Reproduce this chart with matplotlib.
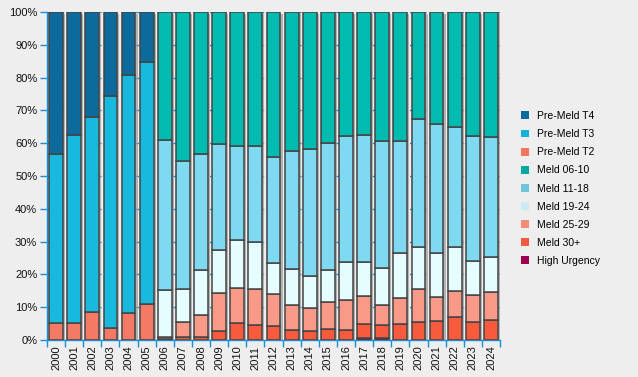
import matplotlib
matplotlib.use("Agg")
import matplotlib.pyplot as plt
import numpy as np
from matplotlib.patches import Patch

years = [str(y) for y in range(2000, 2025)]

# segment sizes in percent (bottom to top stacking order: HU, 30+, 25-29, 19-24, 11-18, 06-10, T2, T3, T4)
pre_t4 = [43.2, 37.4, 32.1, 25.5, 19.1, 15.3] + [0] * 19
pre_t3 = [51.7, 57.5, 59.5, 70.9, 72.8, 73.8] + [0] * 19
pre_t2 = [5.1, 5.1, 8.4, 3.6, 8.1, 10.9] + [0] * 19
meld_06_10 = [0] * 6 + [39.1, 45.5, 43.4, 40.3, 41.0, 41.0, 44.3, 42.5, 41.9, 40.0,
                        37.9, 37.6, 39.4, 39.4, 32.7, 34.0, 35.2, 37.9, 38.2]
meld_11_18 = [0] * 6 + [45.8, 39.0, 35.4, 32.2, 28.6, 29.2, 32.3, 36.0, 38.7, 38.8,
                        38.4, 38.7, 38.7, 34.2, 39.0, 39.6, 36.5, 38.1, 36.6]
meld_19_24 = [0] * 6 + [14.2, 10.1, 13.7, 13.3, 14.4, 14.1, 9.5, 10.9, 9.5, 9.7,
                        11.6, 10.4, 11.3, 13.7, 12.8, 13.4, 13.5, 10.4, 10.7]
meld_25_29 = [0] * 6 + [0.6, 4.5, 6.7, 11.6, 10.9, 11.2, 9.6, 7.6, 7.3, 8.2,
                        9.1, 8.5, 6.1, 7.9, 10.1, 7.3, 7.9, 8.2, 8.5]
meld_30 = [0] * 6 + [0.3, 0.9, 0.8, 2.6, 5.1, 4.5, 4.3, 3.0, 2.6, 3.3,
                     3.0, 4.2, 3.9, 4.8, 5.4, 5.7, 6.9, 5.4, 6.0]
high_urgency = [0] * 17 + [0.6, 0.6] + [0] * 6

series = [
    ("High Urgency", high_urgency, "#a0004f"),
    ("Meld 30+", meld_30, "#f85a3e"),
    ("Meld 25-29", meld_25_29, "#f99a88"),
    ("Meld 19-24", meld_19_24, "#e6fdff"),
    ("Meld 11-18", meld_11_18, "#7fd9f0"),
    ("Meld 06-10", meld_06_10, "#00bbaf"),
    ("Pre-Meld T2", pre_t2, "#f47a66"),
    ("Pre-Meld T3", pre_t3, "#18b9df"),
    ("Pre-Meld T4", pre_t4, "#0c6b9c"),
]
legend_colors = {
    "Pre-Meld T4": "#0d6a9c", "Pre-Meld T3": "#15b2dc", "Pre-Meld T2": "#f07461",
    "Meld 06-10": "#0aa89e", "Meld 11-18": "#6fc5d9", "Meld 19-24": "#cfeaf7",
    "Meld 25-29": "#f28d7c", "Meld 30+": "#f05a40", "High Urgency": "#a00050",
}
legend_order = ["Pre-Meld T4", "Pre-Meld T3", "Pre-Meld T2", "Meld 06-10", "Meld 11-18",
                "Meld 19-24", "Meld 25-29", "Meld 30+", "High Urgency"]

plt.rcParams['font.family'] = ['Liberation Sans', 'DejaVu Sans']
bg = "#eeeeee"
axis_blue = "#1a8fd6"

fig = plt.figure(figsize=(6.38, 3.77), dpi=100, facecolor=bg)
ax = fig.add_axes([47 / 638, 37 / 377, 453 / 638, 328 / 377], facecolor=bg)

x = np.arange(len(years))
width = 0.76

# shadows
totals = np.sum([np.array(s[1]) for s in series], axis=0)
ax.bar(x + 0.12, totals, width=width, bottom=-0.6, color="#9a9a9a", alpha=0.7,
       linewidth=0, zorder=2)

bottom = np.zeros(len(years))
for name, vals, col in series:
    vals = np.array(vals, dtype=float)
    mask = vals > 0
    ax.bar(x[mask], vals[mask], width=width, bottom=bottom[mask], color=col,
           edgecolor="#444444", linewidth=1.1, zorder=3)
    bottom += vals

ax.set_xlim(-0.5, 24.5)
ax.set_ylim(0, 100)
ax.set_yticks(np.arange(0, 101, 10))
ax.set_yticklabels([f"{v}%" for v in range(0, 101, 10)], fontsize=8, color="#111111")
ax.set_xticks(x)
ax.set_xticklabels(years, rotation=90, fontsize=8, color="#111111")
ax.set_xticks(np.arange(-0.5, 25, 1), minor=True)
ax.tick_params(axis='x', which='major', length=0, pad=4)
ax.tick_params(axis='x', which='minor', length=5, color=axis_blue, width=1, direction='out')
ax.tick_params(axis='y', which='major', length=5, color=axis_blue, width=1, direction='out', pad=2)

ax.yaxis.grid(True, color=axis_blue, linestyle=(0, (3, 6)), linewidth=1, zorder=1)
ax.set_axisbelow(True)
for s in ["top", "right"]:
    ax.spines[s].set_visible(False)
for s in ["left", "bottom"]:
    ax.spines[s].set_color(axis_blue)
    ax.spines[s].set_linewidth(1)

hs = [Patch(facecolor=legend_colors[n], edgecolor='none') for n in legend_order]
fig.legend(hs, legend_order, loc="upper left", bbox_to_anchor=(521 / 638, 1 - 111 / 377),
           frameon=False, fontsize=7.5, handlelength=0.8, handleheight=0.8,
           handletextpad=0.7, labelspacing=0.78, borderaxespad=0, borderpad=0)

fig.savefig("out.png", dpi=100, facecolor=bg)
